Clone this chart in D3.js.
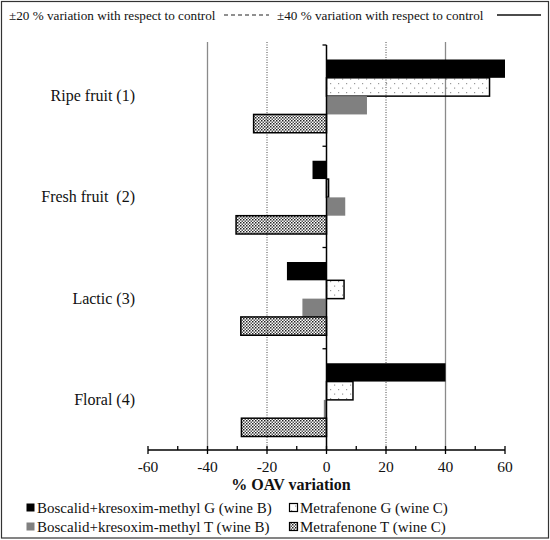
<!DOCTYPE html>
<html>
<head>
<meta charset="utf-8">
<script src="https://cdn.jsdelivr.net/npm/d3@7"></script>
<style>
  body { margin: 0; background: #fff; }
  text { white-space: pre; font-family: "Liberation Serif", "Tinos", "DejaVu Serif", "Times New Roman", serif; }
</style>
</head>
<body>
<svg id="chart" width="550" height="540"></svg>
<script>
// odour families, top to bottom
var categories = ["Ripe fruit (1)", "Fresh fruit  (2)", "Lactic (3)", "Floral (4)"];

// % OAV variation per family
var boscalidG    = [60.0, -4.7, -13.3, 40.0];
var metrafenoneG = [54.8,  0.7,   5.9,  8.9];
var boscalidT    = [13.6,  6.3,  -8.1, -0.9];
var metrafenoneT = [-24.5, -30.4, -28.8, -28.6];

var seriesNames = [
	"Boscalid+kresoxim-methyl G (wine B)",
	"Metrafenone G (wine C)",
	"Boscalid+kresoxim-methyl T (wine B)",
	"Metrafenone T (wine C)"
];
var xTicks = [-60, -40, -20, 0, 20, 40, 60];
var xMinorTicks = [-50, -30, -10, 10, 30, 50];
var dashedLines = [-20, 20];
var solidLines = [-40, 40];

var series = [
	{ key: seriesNames[0], values: boscalidG,    fill: "#000",            stroke: "none" },
	{ key: seriesNames[1], values: metrafenoneG, fill: "url(#sparseDots)", stroke: "#000" },
	{ key: seriesNames[2], values: boscalidT,    fill: "#808080",         stroke: "none" },
	{ key: seriesNames[3], values: metrafenoneT, fill: "url(#denseDots)",  stroke: "#000" }
];

var svg = d3.select("#chart");
var plot = { left: 148, right: 505, top: 45, bottom: 450 };

var x = d3.scaleLinear().domain([-60, 60]).range([plot.left, plot.right]);
var y = d3.scaleBand().domain(categories).range([plot.top, plot.bottom]);
var yInner = d3.scaleBand().domain(seriesNames).range([14.5, y.bandwidth() - 13.5]);

// patterns
var defs = svg.append("defs");
var sparse = defs.append("pattern").attr("id", "sparseDots")
	.attr("patternUnits", "userSpaceOnUse").attr("width", 8).attr("height", 9);
sparse.append("rect").attr("x", 2).attr("y", 2).attr("width", 1.2).attr("height", 1.2).attr("fill", "#999");
sparse.append("rect").attr("x", 6).attr("y", 6.5).attr("width", 1.2).attr("height", 1.2).attr("fill", "#999");

var dense = defs.append("pattern").attr("id", "denseDots")
	.attr("patternUnits", "userSpaceOnUse").attr("width", 3).attr("height", 3);
dense.append("rect").attr("width", 1.5).attr("height", 1.5).attr("fill", "#222");
dense.append("rect").attr("x", 1.5).attr("y", 1.5).attr("width", 1.5).attr("height", 1.5).attr("fill", "#555");

// outer frame
svg.append("rect").attr("x", 1.5).attr("y", 1.5).attr("width", 547).attr("height", 536.5)
	.attr("fill", "none").attr("stroke", "#333").attr("stroke-width", 1.2);

// reference lines
svg.selectAll(".solidRef").data(solidLines).enter().append("line")
	.attr("x1", x).attr("x2", x).attr("y1", 42).attr("y2", plot.bottom)
	.attr("stroke", "#8a8a8a").attr("stroke-width", 1.3);
svg.selectAll(".dashRef").data(dashedLines).enter().append("line")
	.attr("x1", x).attr("x2", x).attr("y1", 42).attr("y2", plot.bottom)
	.attr("stroke", "#333").attr("stroke-width", 0.9).attr("stroke-dasharray", "1,1.5");

// bars
var groups = svg.selectAll(".series").data(series).enter().append("g");
groups.selectAll("rect").data(function (s) {
		return s.values.map(function (v, i) { return { key: s.key, cat: categories[i], v: v, s: s }; });
	}).enter().append("rect")
	.attr("x", function (d) { return Math.min(x(0), x(d.v)); })
	.attr("width", function (d) { return Math.abs(x(d.v) - x(0)); })
	.attr("y", function (d) { return y(d.cat) + yInner(d.key); })
	.attr("height", yInner.bandwidth())
	.attr("fill", function (d) { return d.s.fill; })
	.attr("stroke", function (d) { return d.s.stroke; })
	.attr("stroke-width", 1.5);

// vertical axis at zero
svg.append("line").attr("x1", x(0)).attr("x2", x(0)).attr("y1", plot.top).attr("y2", plot.bottom)
	.attr("stroke", "#000").attr("stroke-width", 1.5);
var yEdges = categories.map(function (c) { return y(c); });
svg.selectAll(".yTick").data(yEdges).enter().append("line")
	.attr("x1", x(0) - 4).attr("x2", x(0)).attr("y1", function (d) { return d; }).attr("y2", function (d) { return d; })
	.attr("stroke", "#000").attr("stroke-width", 1.3);

svg.selectAll(".catLabel").data(categories).enter().append("text")
	.attr("x", 135).attr("y", function (d) { return y(d) + y.bandwidth() / 2; })
	.attr("dy", "0.35em").attr("text-anchor", "end")
	.attr("font-size", 16).attr("fill", "#111").text(function (d) { return d; });

// x axis
var xAxis = svg.append("g").attr("transform", "translate(0," + plot.bottom + ")");
xAxis.append("line").attr("x1", plot.left).attr("x2", plot.right).attr("stroke", "#000").attr("stroke-width", 1.5);
xAxis.selectAll(".major").data(xTicks).enter().append("line")
	.attr("x1", x).attr("x2", x).attr("y1", -4).attr("y2", 4).attr("stroke", "#000").attr("stroke-width", 1.3);
xAxis.selectAll(".minor").data(xMinorTicks).enter().append("line")
	.attr("x1", x).attr("x2", x).attr("y1", -4).attr("y2", 0).attr("stroke", "#000").attr("stroke-width", 1.3);
xAxis.selectAll(".tickLabel").data(xTicks).enter().append("text")
	.attr("x", x).attr("y", 22).attr("text-anchor", "middle").attr("font-size", 15.5).attr("fill", "#111")
	.text(function (d) { return d; });

svg.append("text").attr("x", 291).attr("y", 490).attr("text-anchor", "middle")
	.attr("font-size", 16).attr("font-weight", "bold").attr("fill", "#111").text("% OAV variation");

// top legend
svg.append("text").attr("x", 9).attr("y", 20).attr("font-size", 13.2).attr("fill", "#111")
	.text("\u00b120 % variation with respect to control");
svg.append("line").attr("x1", 224).attr("x2", 269).attr("y1", 15).attr("y2", 15)
	.attr("stroke", "#222").attr("stroke-width", 1.2).attr("stroke-dasharray", "4,3");
svg.append("text").attr("x", 277).attr("y", 20).attr("font-size", 13.2).attr("fill", "#111")
	.text("\u00b140 % variation with respect to control");
svg.append("line").attr("x1", 497).attr("x2", 541).attr("y1", 15).attr("y2", 15)
	.attr("stroke", "#111").attr("stroke-width", 1.5);

// bottom legend
var legendPos = [[26, 508], [289, 508], [26, 527], [289, 527]];
var legendOrder = [0, 1, 2, 3];
var leg = svg.selectAll(".leg").data(legendOrder).enter().append("g")
	.attr("transform", function (d) { return "translate(" + legendPos[d][0] + "," + legendPos[d][1] + ")"; });
leg.append("rect").attr("x", 0.5).attr("y", -4.5).attr("width", 8).attr("height", 8)
	.attr("fill", function (d) { return series[d].fill; })
	.attr("stroke", function (d) { return series[d].stroke; }).attr("stroke-width", 1.2);
leg.append("text").attr("x", 11).attr("dy", "0.35em").attr("font-size", 15).attr("fill", "#111")
	.text(function (d) { return seriesNames[d]; });
</script>
</body>
</html>
